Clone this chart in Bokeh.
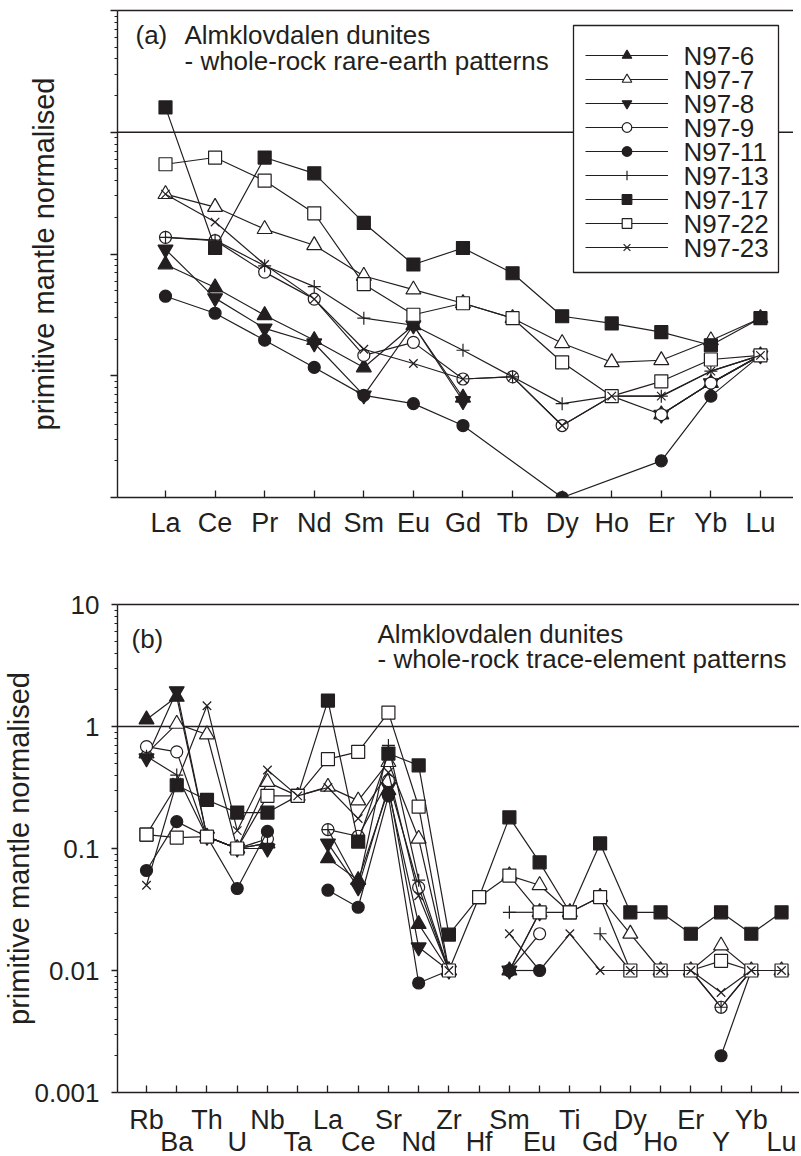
import math
from bokeh.plotting import figure
from bokeh.models import (Range1d, LinearAxis, FixedTicker, Span, Label, Legend,
                          LegendItem, CustomJSTickFormatter, BoxAnnotation)
from bokeh.core.properties import value
from bokeh.layouts import column
from bokeh.embed import file_html
from bokeh.resources import INLINE

nan = float("nan")

# ---------------- data ----------------
samples = ["N97-6", "N97-7", "N97-8", "N97-9", "N97-11", "N97-13", "N97-17", "N97-22", "N97-23"]
markers = ["triangle", "triangle", "inverted_triangle", "circle", "circle", "cross", "square", "square", "x"]
filled = [True, False, True, False, True, False, True, False, False]

ree_elements = ["La", "Ce", "Pr", "Nd", "Sm", "Eu", "Gd", "Tb", "Dy", "Ho", "Er", "Yb", "Lu"]
ree_n97_6 = [0.082, 0.053, 0.0314, 0.0196, 0.0117, 0.026, 0.0066, nan, nan, nan, 0.0048, 0.0087, 0.0147]
ree_n97_7 = [0.31, 0.243, 0.16, 0.118, 0.066, 0.051, 0.0394, 0.0297, 0.0185, 0.0129, 0.0134, 0.0195, 0.0297]
ree_n97_8 = [0.109, 0.0434, 0.0245, 0.0185, 0.0069, 0.026, 0.0062, nan, nan, nan, 0.0048, 0.0087, 0.0147]
ree_n97_9 = [0.137, 0.129, 0.071, 0.0426, 0.0147, 0.0188, 0.0094, 0.0098, 0.0039, 0.0068, 0.0048, 0.0087, 0.0147]
ree_n97_11 = [0.045, 0.0326, 0.0196, 0.0117, 0.0069, 0.0059, 0.0039, nan, 0.001, nan, 0.002, 0.0068, 0.0147]
ree_n97_13 = [0.137, 0.13, 0.08, 0.054, 0.0297, 0.026, 0.0162, 0.0098, 0.0059, 0.0068, 0.0068, 0.0109, 0.0147]
ree_n97_17 = [1.6, 0.112, 0.62, 0.46, 0.18, 0.082, 0.112, 0.0695, 0.0308, 0.0269, 0.0228, 0.0178, 0.0297]
ree_n97_22 = [0.546, 0.62, 0.40, 0.216, 0.0565, 0.0317, 0.0394, 0.0297, 0.0129, 0.0068, 0.009, 0.0136, 0.0147]
ree_n97_23 = [0.31, 0.183, 0.082, 0.0426, 0.0165, 0.0126, 0.0094, 0.0098, 0.0039, 0.0068, 0.0068, 0.0109, 0.0147]

trace_elements = ["Rb", "Ba", "Th", "U", "Nb", "Ta", "La", "Ce", "Sr", "Nd", "Zr", "Hf",
                  "Sm", "Eu", "Ti", "Gd", "Dy", "Ho", "Er", "Y", "Yb", "Lu"]
tr_n97_6 = [1.14, 1.75, 0.125, 0.10, 0.11, nan, 0.083, 0.055, 0.30, 0.024, 0.01, nan,
            0.01, 0.03, nan, nan, nan, nan, nan, nan, nan, nan]
tr_n97_7 = [0.60, 1.05, 0.86, 0.10, 0.35, 0.27, 0.32, 0.247, 0.51, 0.12, 0.01, nan,
            0.06, 0.05, 0.03, 0.04, 0.02, 0.01, 0.01, 0.016, 0.01, 0.01]
tr_n97_8 = [0.55, 1.95, 0.125, 0.10, 0.10, nan, 0.11, 0.048, 0.32, 0.0155, 0.01, nan,
            0.01, 0.03, nan, nan, nan, nan, nan, nan, nan, nan]
tr_n97_9 = [0.685, 0.62, 0.125, 0.10, 0.12, nan, 0.143, 0.126, 0.36, 0.048, 0.01, nan,
            0.01, 0.02, nan, nan, nan, nan, 0.01, 0.005, 0.01, 0.01]
tr_n97_11 = [0.066, 0.166, 0.125, 0.047, 0.138, nan, 0.0455, 0.033, 0.27, 0.0079, 0.01, nan,
             0.01, 0.01, nan, nan, nan, nan, nan, 0.002, 0.01, 0.01]
tr_n97_13 = [0.57, 0.40, 0.125, 0.10, 0.11, nan, 0.143, 0.05, 0.70, 0.055, 0.01, nan,
             0.03, 0.03, nan, 0.02, 0.01, 0.01, 0.01, 0.005, 0.01, 0.01]
tr_n97_17 = [0.13, 0.33, 0.25, 0.197, 0.197, 0.27, 1.63, 0.114, 0.60, 0.48, 0.0197, 0.04,
             0.18, 0.077, 0.03, 0.11, 0.03, 0.03, 0.02, 0.03, 0.02, 0.03]
tr_n97_22 = [0.13, 0.123, 0.125, 0.10, 0.27, 0.27, 0.54, 0.62, 1.30, 0.22, 0.01, 0.04,
             0.06, 0.03, 0.03, 0.04, 0.01, 0.01, 0.01, 0.012, 0.01, 0.01]
tr_n97_23 = [0.05, 0.35, 1.48, 0.14, 0.44, 0.27, 0.316, 0.176, 0.42, 0.041, 0.01, nan,
             0.02, 0.01, 0.02, 0.01, 0.01, 0.01, 0.01, 0.0066, 0.01, 0.01]

ree_series = [ree_n97_6, ree_n97_7, ree_n97_8, ree_n97_9, ree_n97_11, ree_n97_13,
              ree_n97_17, ree_n97_22, ree_n97_23]
trace_series = [tr_n97_6, tr_n97_7, tr_n97_8, tr_n97_9, tr_n97_11, tr_n97_13,
                tr_n97_17, tr_n97_22, tr_n97_23]

y_major = [0.001, 0.01, 0.1, 1, 10]

# ---------------- styling ----------------
INK = "#231f20"
FONT = "Liberation Sans"
marker_size = {"triangle": 15, "inverted_triangle": 15, "circle": 12,
               "square": 13, "cross": 13, "x": 12}
y_minor = [m * 10.0 ** e for e in range(-3, 1) for m in range(2, 10)]


def segments(vals, max_gap):
    xs_all, ys_all = [], []
    cx, cy, last = [], [], None
    for i, v in enumerate(vals):
        if v != v:
            continue
        if last is not None and i - last - 1 > max_gap:
            if len(cx) > 1:
                xs_all.append(cx); ys_all.append(cy)
            cx, cy = [], []
        cx.append(i); cy.append(v); last = i
    if len(cx) > 1:
        xs_all.append(cx); ys_all.append(cy)
    return xs_all, ys_all


def label_formatter(labels):
    return CustomJSTickFormatter(args=dict(labels=labels), code="""
        const i = Math.round(tick);
        return (i >= 0 && i < labels.length) ? labels[i] : '';
    """)


def make_fig(n, px_first, px_spacing, left_px, frame_w, frame_h, min_left, min_top, min_bottom):
    x0 = -(px_first - left_px) / px_spacing
    x1 = x0 + frame_w / px_spacing
    p = figure(frame_width=frame_w, frame_height=frame_h, y_axis_type="log",
               x_range=Range1d(x0, x1), y_range=Range1d(0.001, 10),
               output_backend="svg", toolbar_location=None,
               min_border_left=min_left, min_border_right=0,
               min_border_top=min_top, min_border_bottom=min_bottom)
    p.outline_line_color = None
    p.xgrid.visible = False
    p.ygrid.visible = False
    p.background_fill_color = "white"
    p.border_fill_color = "white"
    ya = p.yaxis[0]
    xa = p.xaxis[0]
    ya.ticker = FixedTicker(ticks=y_major, minor_ticks=y_minor)
    ya.major_tick_out = 7
    ya.major_tick_in = 0
    ya.minor_tick_out = 3
    ya.minor_tick_in = 0
    for a in (ya, xa):
        a.axis_line_color = INK
        a.axis_line_width = 1.4
        a.major_tick_line_color = INK
        a.major_tick_line_width = 1.3
        a.minor_tick_line_color = INK
        a.minor_tick_line_width = 1.1
        a.major_label_text_font = FONT
        a.major_label_text_color = INK
        a.axis_label_text_font = FONT
        a.axis_label_text_color = INK
        a.axis_label_text_font_style = "normal"
    ya.axis_label = "primitive mantle normalised"
    ya.axis_label_text_font_size = "29px"
    xa.ticker = FixedTicker(ticks=list(range(n)))
    xa.major_tick_in = 7
    xa.major_tick_out = 0
    xa.minor_tick_line_color = None
    xa.major_label_text_font_size = "27px"
    top = LinearAxis(ticker=FixedTicker(ticks=[]), major_tick_out=0, major_tick_in=0,
                     major_label_standoff=0, axis_line_color=INK, axis_line_width=1.6,
                     major_label_text_font_size="0px")
    p.add_layout(top, "above")
    p.add_layout(Span(location=1, dimension="width", line_color=INK,
                      line_width=1.5, level="underlay"))
    return p, xa, ya


def draw_series(p, series, max_gap):
    rends = []
    for vals, mk, fl in zip(series, markers, filled):
        xs, ys = segments(vals, max_gap)
        lr = p.multi_line(xs=xs, ys=ys, line_color=INK, line_width=1.2)
        px = [i for i, v in enumerate(vals) if v == v]
        py = [v for v in vals if v == v]
        sr = p.scatter(x=px, y=py, marker=mk, size=marker_size[mk],
                       fill_color=INK if fl else "white", line_color=INK,
                       line_width=1.2)
        rends.append((lr, sr))
    return rends


title_kw = dict(x_units="screen", y_units="screen", text_font=FONT, text_font_size="26px",
                text_color=INK, text_baseline="middle")

# ---------------- panel (a) ----------------
p1, xa1, ya1 = make_fig(len(ree_elements), 163, 49.58, 115, 686, 487, 107, 10, 59)
xa1.formatter = label_formatter(ree_elements)
xa1.major_label_standoff = 10
ya1.formatter = CustomJSTickFormatter(code="return ''")
ya1.major_label_standoff = 0
ya1.axis_label_standoff = 51

r1 = draw_series(p1, ree_series, 1)

# legend: framed white box, glyph samples from a Legend, names as text labels
LEG_TOP = 497 - 43          # top of first legend row (screen px above frame bottom)
ROW = 24.1
p1.add_layout(BoxAnnotation(left=456, right=661, bottom=225, top=472,
                            left_units="screen", right_units="screen",
                            bottom_units="screen", top_units="screen",
                            fill_color="white", fill_alpha=1.0,
                            line_color=INK, line_width=1.3, line_alpha=1.0))
legend = Legend(items=[LegendItem(label=value(""), renderers=[lr, sr]) for (lr, sr) in r1],
                location=(487, 238), glyph_width=83, glyph_height=24, spacing=0,
                label_standoff=0, padding=0, margin=0, label_width=1, label_height=1,
                label_text_font_size="1px", label_text_line_height=1.0,
                border_line_color=None, background_fill_alpha=0.0)
p1.add_layout(legend)
for k, s in enumerate(samples):
    p1.add_layout(Label(x=566, y=LEG_TOP - 12 - ROW * k, text=s, **title_kw))

p1.add_layout(Label(x=18, y=497 - 34, text="(a)", **title_kw))
p1.add_layout(Label(x=67, y=497 - 34, text="Almklovdalen dunites", **title_kw))
p1.add_layout(Label(x=67, y=497 - 60, text="- whole-rock rare-earth patterns", **title_kw))

# ---------------- panel (b) ----------------
p2, xa2, ya2 = make_fig(len(trace_elements), 148, 30.24, 119, 682, 488, 111, 48, 0)
row1 = [e if i % 2 == 0 else "" for i, e in enumerate(trace_elements)]
xa2.formatter = label_formatter(row1)
xa2.major_label_standoff = 12
xa2b = LinearAxis(ticker=FixedTicker(ticks=list(range(1, len(trace_elements), 2))),
                  formatter=label_formatter(trace_elements),
                  major_tick_in=0, major_tick_out=0, major_tick_line_color=None,
                  minor_tick_line_color=None, axis_line_color=None,
                  major_label_standoff=-11, major_label_text_font=FONT,
                  major_label_text_font_size="27px", major_label_text_color=INK)
p2.add_layout(xa2b, "below")
ya2.formatter = CustomJSTickFormatter(code="return String(Number(tick.toPrecision(3)));")
ya2.major_label_text_font_size = "26px"
ya2.major_label_standoff = 12
ya2.major_tick_out = 6
ya2.axis_label_standoff = -4

draw_series(p2, trace_series, 0)

p2.add_layout(Label(x=14, y=1092 - 638, text="(b)", **title_kw))
p2.add_layout(Label(x=260, y=1092 - 633, text="Almklovdalen dunites", **title_kw))
p2.add_layout(Label(x=260, y=1092 - 658, text="- whole-rock trace-element patterns", **title_kw))

layout = column(p1, p2, spacing=0)
open("out.html", "w").write(file_html(layout, INLINE))
